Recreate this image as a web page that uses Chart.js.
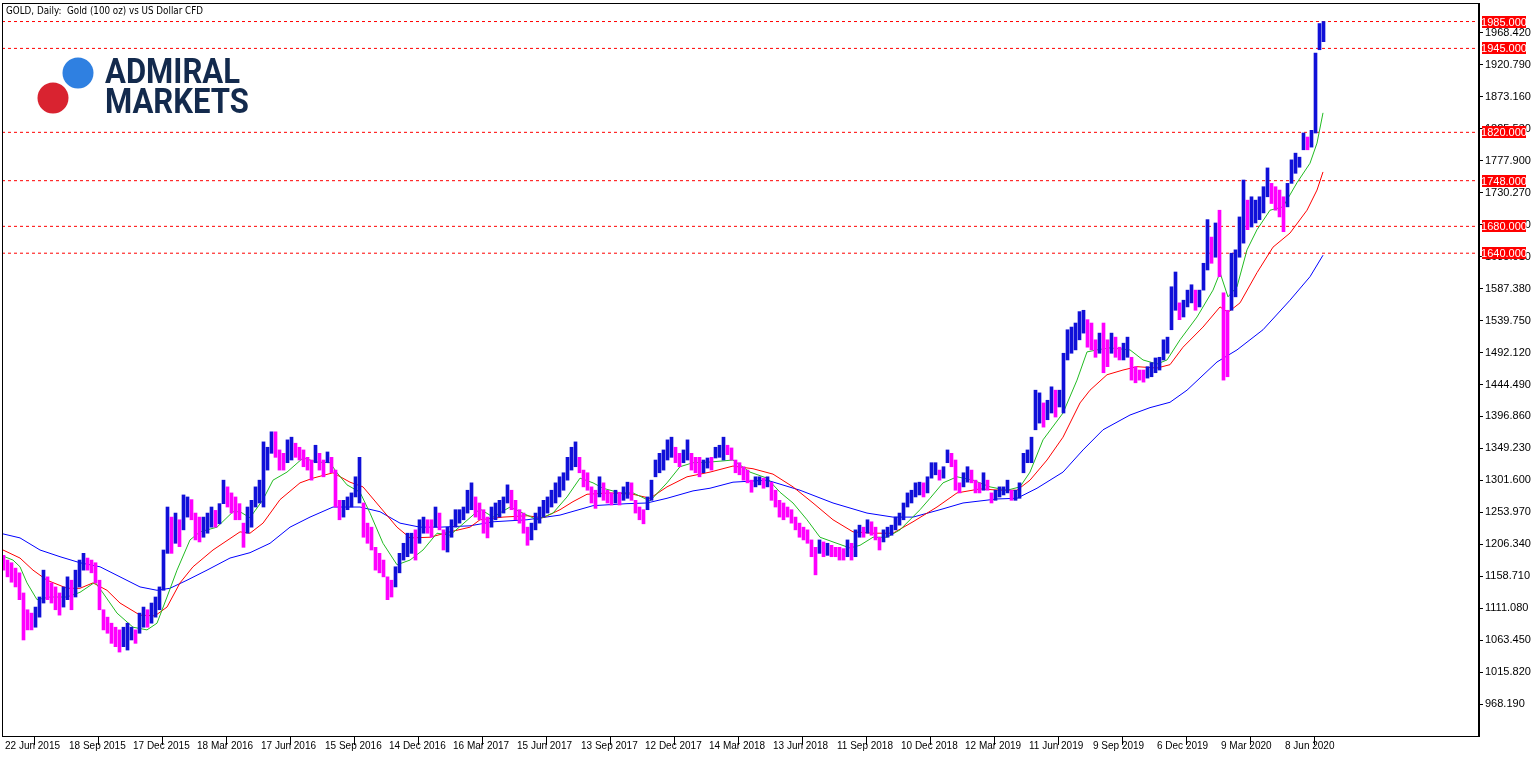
<!DOCTYPE html>
<html><head><meta charset="utf-8">
<script src="https://cdn.jsdelivr.net/npm/chart.js@4.4.1/dist/chart.umd.min.js"></script>
<style>html,body{margin:0;padding:0;background:#fff;}canvas{display:block;}</style>
</head><body>
<canvas id="c" width="1537" height="757"></canvas>
<script>
const chartTitle = 'GOLD, Daily:  Gold (100 oz) vs US Dollar CFD';
const logoLine1 = 'ADMIRAL';
const logoLine2 = 'MARKETS';

// x tick positions (bar index) and their labels
const xTickIndex = [0,64,128,192,256,320,384,448,512,576,640,704,768,832,896,960,1024,1088,1152,1216,1280];
const xTickLabels = ['22 Jun 2015','18 Sep 2015','17 Dec 2015','18 Mar 2016','17 Jun 2016','15 Sep 2016','14 Dec 2016','16 Mar 2017','15 Jun 2017','13 Sep 2017','12 Dec 2017','14 Mar 2018','13 Jun 2018','11 Sep 2018','10 Dec 2018','12 Mar 2019','11 Jun 2019','9 Sep 2019','6 Dec 2019','9 Mar 2020','8 Jun 2020'];

// price axis ticks
const yTickValues = [968.19,1015.82,1063.45,1111.08,1158.71,1206.34,1253.97,1301.60,1349.23,1396.86,1444.49,1492.12,1539.75,1587.38,1635.01,1682.64,1730.27,1777.90,1825.53,1873.16,1920.79,1968.42];

// horizontal levels
const levels = [1985,1945,1820,1748,1680,1640];

// price bars: each entry covers 4 trading days (high / low)
const barHigh = [1190,1183,1179,1171,1164,1134,1109,1104,1113,1128,1168,1158,1149,1143,1134,1143,1158,1153,1168,1183,
1193,1186,1183,1179,1153,1109,1098,1089,1083,1079,1083,1089,1083,1079,1104,1113,1109,1119,1128,1143,
1198,1262,1247,1253,1243,1280,1277,1273,1253,1247,1247,1253,1262,1257,1267,1302,1292,1283,1277,1267,
1238,1262,1272,1292,1302,1359,1351,1374,1374,1347,1342,1362,1366,1357,1351,1347,1336,1332,1354,1342,
1332,1344,1336,1317,1272,1272,1277,1283,1307,1336,1268,1238,1232,1202,1193,1183,1158,1153,1173,1193,
1208,1223,1223,1228,1243,1247,1243,1243,1262,1253,1228,1232,1243,1258,1258,1262,1287,1298,1277,1268,
1258,1247,1262,1268,1272,1277,1295,1287,1272,1258,1253,1232,1238,1253,1262,1272,1277,1287,1298,1307,
1313,1336,1351,1359,1336,1317,1313,1292,1287,1307,1298,1287,1283,1287,1284,1292,1299,1298,1272,1262,
1258,1277,1302,1332,1342,1347,1362,1366,1351,1342,1347,1362,1342,1336,1336,1332,1335,1336,1351,1354,
1366,1354,1350,1332,1328,1322,1317,1302,1307,1307,1305,1307,1299,1287,1272,1268,1262,1258,1247,1238,
1232,1228,1213,1202,1213,1210,1208,1205,1202,1202,1200,1213,1208,1228,1235,1232,1243,1240,1232,1217,
1228,1232,1235,1247,1253,1268,1283,1287,1298,1299,1298,1307,1328,1328,1317,1322,1347,1342,1332,1298,
1313,1322,1317,1302,1298,1313,1302,1283,1287,1292,1292,1302,1287,1287,1298,1342,1347,1366,1436,1432,
1417,1421,1441,1436,1436,1491,1526,1530,1536,1553,1555,1541,1536,1511,1521,1536,1511,1521,1515,1500,
1506,1515,1485,1471,1466,1466,1471,1477,1484,1485,1511,1515,1590,1612,1566,1570,1585,1593,1585,1585,
1625,1690,1664,1685,1704,1581,1555,1640,1645,1694,1749,1719,1724,1719,1724,1739,1767,1744,1739,1734,
1724,1744,1779,1789,1783,1819,1813,1823,1938,1982,1985];
const barLow = [1168,1158,1150,1143,1124,1064,1079,1079,1083,1098,1119,1124,1119,1109,1101,1113,1124,1109,1128,1143,
1168,1168,1164,1149,1109,1079,1074,1059,1054,1046,1054,1049,1064,1059,1074,1083,1083,1089,1098,1109,
1138,1193,1193,1208,1203,1228,1247,1243,1213,1210,1217,1223,1232,1232,1237,1267,1262,1253,1243,1243,
1202,1223,1232,1262,1268,1262,1317,1342,1336,1317,1317,1328,1332,1336,1332,1322,1317,1302,1328,1317,
1307,1328,1313,1262,1243,1247,1258,1262,1277,1268,1217,1208,1198,1168,1164,1158,1124,1128,1143,1164,
1183,1188,1193,1183,1208,1223,1223,1217,1232,1228,1198,1195,1217,1232,1238,1243,1253,1258,1247,1243,
1223,1216,1232,1243,1247,1253,1268,1258,1243,1238,1223,1205,1213,1228,1238,1247,1253,1262,1268,1277,
1287,1302,1317,1322,1313,1292,1287,1268,1260,1277,1272,1268,1265,1268,1265,1272,1275,1272,1253,1243,
1237,1258,1272,1307,1313,1317,1332,1336,1328,1322,1328,1332,1317,1313,1307,1313,1320,1317,1335,1336,
1332,1340,1332,1313,1310,1302,1298,1284,1292,1295,1290,1292,1272,1262,1247,1243,1247,1238,1228,1217,
1213,1208,1188,1161,1193,1188,1190,1188,1188,1183,1183,1188,1183,1188,1217,1217,1223,1220,1213,1198,
1210,1217,1220,1228,1235,1243,1262,1268,1277,1280,1277,1283,1305,1310,1302,1305,1328,1322,1287,1283,
1292,1299,1298,1283,1283,1287,1287,1268,1272,1277,1280,1283,1272,1272,1275,1313,1328,1328,1377,1387,
1381,1392,1402,1396,1411,1402,1481,1491,1496,1511,1521,1500,1496,1485,1491,1462,1471,1491,1485,1481,
1481,1485,1451,1447,1451,1448,1454,1456,1462,1466,1481,1491,1526,1555,1541,1545,1560,1566,1555,1560,
1585,1615,1625,1634,1605,1451,1456,1555,1575,1634,1655,1675,1679,1685,1690,1700,1724,1714,1704,1694,
1672,1709,1744,1759,1768,1794,1794,1798,1819,1943,1955];
const BAR_STEP = 4;

// moving averages: [bar index, value]
const maFast = [[1,1189],[11,1183],[18,1173],[25,1149],[35,1124],[48,1128],[65,1128],[78,1135],[93,1150],[101,1134],[115,1104],[131,1083],[145,1079],[155,1089],[165,1128],[175,1168],[188,1213],[198,1225],[215,1232],[231,1255],[238,1255],[248,1246],[261,1273],[271,1302],[285,1314],[301,1335],[315,1329],[328,1328],[335,1313],[345,1295],[358,1284],[368,1253],[381,1208],[395,1176],[408,1183],[421,1198],[435,1223],[448,1220],[468,1246],[478,1259],[491,1247],[508,1262],[525,1250],[535,1243],[551,1253],[565,1277],[578,1305],[591,1298],[601,1290],[618,1283],[631,1283],[648,1271],[665,1298],[678,1322],[691,1328],[708,1329],[731,1332],[748,1314],[765,1305],[778,1284],[791,1268],[805,1243],[818,1217],[831,1210],[848,1201],[858,1205],[871,1217],[885,1217],[898,1228],[918,1258],[928,1275],[941,1298],[955,1307],[971,1302],[988,1292],[1005,1287],[1018,1292],[1028,1314],[1041,1362],[1061,1402],[1075,1451],[1085,1493],[1095,1496],[1108,1499],[1128,1496],[1141,1481],[1155,1475],[1165,1481],[1178,1511],[1195,1545],[1211,1585],[1218,1611],[1226,1575],[1235,1590],[1245,1645],[1255,1675],[1268,1704],[1281,1709],[1295,1745],[1308,1774],[1315,1804],[1321,1849]];
const maMid = [[1,1198],[18,1186],[31,1168],[45,1153],[65,1141],[78,1141],[91,1149],[105,1138],[118,1119],[138,1101],[153,1100],[165,1113],[178,1149],[191,1173],[211,1198],[238,1225],[248,1223],[261,1238],[278,1273],[298,1298],[311,1305],[331,1313],[348,1299],[361,1292],[378,1262],[395,1232],[408,1216],[428,1217],[448,1225],[468,1232],[478,1243],[501,1247],[525,1249],[541,1246],[558,1258],[571,1270],[585,1281],[608,1283],[631,1281],[648,1275],[665,1292],[685,1307],[708,1314],[731,1323],[751,1319],[771,1311],[791,1292],[811,1268],[831,1243],[851,1225],[871,1223],[891,1223],[911,1240],[935,1262],[955,1283],[978,1289],[998,1287],[1015,1287],[1028,1302],[1045,1332],[1061,1366],[1078,1417],[1088,1436],[1105,1459],[1121,1466],[1135,1471],[1155,1469],[1168,1474],[1181,1500],[1201,1530],[1218,1560],[1226,1552],[1238,1566],[1255,1611],[1271,1649],[1288,1670],[1305,1704],[1315,1734],[1321,1761]];
const maSlow = [[1,1222],[18,1216],[38,1198],[58,1188],[78,1179],[98,1173],[118,1158],[138,1143],[155,1138],[168,1141],[185,1153],[205,1168],[228,1186],[248,1194],[268,1208],[288,1232],[308,1247],[331,1262],[358,1262],[378,1255],[398,1238],[418,1232],[438,1232],[468,1234],[491,1240],[525,1243],[558,1250],[591,1264],[625,1267],[645,1268],[665,1275],[691,1286],[708,1290],[731,1299],[765,1302],[798,1287],[831,1268],[865,1253],[891,1247],[911,1247],[938,1258],[961,1268],[995,1274],[1015,1275],[1035,1290],[1061,1314],[1081,1347],[1101,1377],[1128,1399],[1148,1410],[1168,1418],[1185,1436],[1215,1478],[1235,1496],[1261,1526],[1288,1570],[1308,1605],[1321,1637]];

// ---- styles ----
const BULL = '#1010d8';
const BEAR = '#ff00ff';
const LEVEL = '#ff0000';
const AXIS_FONT = '"Liberation Sans Narrow", "Liberation Sans", Arial, sans-serif';

const toPts = arr => arr.map(p => ({x: p[0], y: p[1]}));
const barsData = barHigh.map((h, k) => ({x: k * BAR_STEP + 1.5, y: [barLow[k], h]}));
const barColors = barHigh.map((h, k) => {
  if (k === 0) return BEAR;
  return (h + barLow[k]) >= (barHigh[k-1] + barLow[k-1]) ? BULL : BEAR;
});

const levelSets = levels.map(v => ({
  type: 'line', data: [{x: 0, y: v}, {x: 1477, y: v}],
  borderColor: LEVEL, borderWidth: 1, borderDash: [3, 3], pointRadius: 0, order: 5
}));

const frame = {
  id: 'frame',
  afterDraw(chart) {
    const c = chart.ctx, a = chart.chartArea, ys = chart.scales.y;
    c.save();
    c.strokeStyle = '#000'; c.lineWidth = 1;
    c.strokeRect(Math.round(a.left) + 0.5, Math.round(a.top) + 0.5, Math.round(a.right - a.left) - 1, Math.round(a.bottom - a.top));
    // title
    c.fillStyle = '#000';
    c.font = '11px "DejaVu Sans", sans-serif';
    c.textBaseline = 'alphabetic'; c.textAlign = 'left';
    c.fillText(chartTitle, 6, 14, 197);
    // logo
    c.fillStyle = '#2f80e1';
    c.beginPath(); c.arc(78, 73, 15.5, 0, Math.PI * 2); c.fill();
    c.fillStyle = '#d92330';
    c.beginPath(); c.arc(53, 98, 15.5, 0, Math.PI * 2); c.fill();
    c.fillStyle = '#132a4d';
    c.font = 'bold 35px Roboto, "Liberation Sans", sans-serif';
    c.fillText(logoLine1, 105, 83, 135);
    c.fillText(logoLine2, 105, 113, 144);
    // level labels
    c.font = '11px ' + AXIS_FONT;
    c.textAlign = 'center'; c.textBaseline = 'middle';
    levels.forEach(v => {
      const y = Math.round(ys.getPixelForValue(v));
      c.fillStyle = LEVEL;
      c.fillRect(a.right + 3, y - 6, 44, 12);
      c.fillStyle = '#fff';
      c.fillText(v.toFixed(3), a.right + 25, y + 0.5);
    });
    c.restore();
  }
};

new Chart(document.getElementById('c'), {
  type: 'bar',
  data: {
    datasets: [
      ...levelSets,
      {type: 'line', data: toPts(maSlow), borderColor: '#0000ff', borderWidth: 1, pointRadius: 0, tension: 0, order: 4},
      {type: 'line', data: toPts(maMid), borderColor: '#ff0000', borderWidth: 1, pointRadius: 0, tension: 0, order: 3},
      {type: 'line', data: toPts(maFast), borderColor: '#22bb22', borderWidth: 1, pointRadius: 0, tension: 0, order: 2},
      {type: 'bar', data: barsData, backgroundColor: barColors, barThickness: 3, borderWidth: 0, order: 1}
    ]
  },
  options: {
    responsive: false, animation: false, devicePixelRatio: 1,
    layout: {padding: {left: 2, top: 3, right: 0, bottom: 0}},
    plugins: {legend: {display: false}, tooltip: {enabled: false}},
    scales: {
      x: {
        type: 'linear', min: 0, max: 1477, offset: false,
        grid: {drawOnChartArea: false, drawTicks: true, tickLength: 9, color: '#000'},
        border: {display: true, color: '#000'},
        ticks: {autoSkip: false, maxRotation: 0, align: 'start', labelOffset: 3, padding: -5,
          color: '#000', font: {family: AXIS_FONT, size: 10},
          callback: v => { const i = xTickIndex.indexOf(v); return i >= 0 ? xTickLabels[i] : ''; }},
        afterBuildTicks: s => { s.ticks = xTickIndex.map(v => ({value: v})); },
        afterFit: s => { s.height = 21; s.paddingLeft = 0; s.paddingRight = 0; }
      },
      y: {
        position: 'right', min: 921, max: 2012.6,
        grid: {drawOnChartArea: false, drawTicks: true, tickLength: 4, color: '#000'},
        border: {display: true, color: '#000'},
        ticks: {padding: 2, color: '#000', font: {family: AXIS_FONT, size: 11},
          callback: v => Number(v).toFixed(3)},
        afterBuildTicks: s => { s.ticks = yTickValues.map(v => ({value: v})); },
        afterFit: s => { s.width = 58; s.paddingTop = 0; s.paddingBottom = 0; }
      }
    }
  },
  plugins: [frame]
});
</script>
</body></html>
